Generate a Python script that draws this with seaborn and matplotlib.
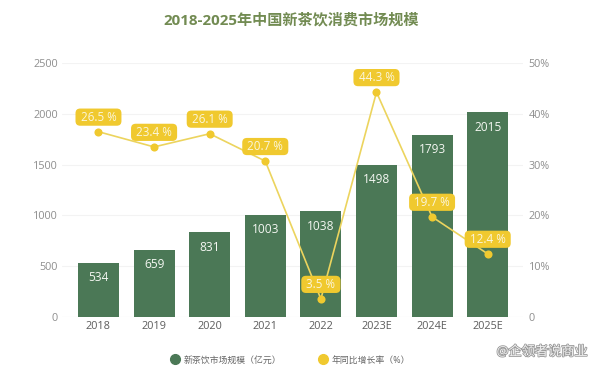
import matplotlib.pyplot as plt
import matplotlib.patheffects as pe
from matplotlib.lines import Line2D
import seaborn as sns

years = ['2018', '2019', '2020', '2021', '2022', '2023E', '2024E', '2025E']
market_size = [534, 659, 831, 1003, 1038, 1498, 1793, 2015]
# the line sits at these heights in the picture, its labels say something else for the first years
growth_pos = [36.5, 33.5, 36.1, 30.7, 3.5, 44.3, 19.7, 12.4]
growth_labels = ['26.5 %', '23.4 %', '26.1 %', '20.7 %', '3.5 %', '44.3 %', '19.7 %', '12.4 %']
left_ticks = [0, 500, 1000, 1500, 2000, 2500]
right_ticks = [0, 10, 20, 30, 40, 50]
right_tick_labels = ['0', '10%', '20%', '30%', '40%', '50%']

green = '#4b7856'
yellow = '#f0c92f'
line_yellow = '#ecd45e'

sns.set_theme(style="white")
plt.rcParams['font.family'] = ['Open Sans', 'Noto Sans CJK SC', 'DejaVu Sans']

fig = plt.figure(figsize=(6, 3.73), dpi=100)
ax = fig.add_axes([62 / 600, 1 - 316.7 / 373, 461 / 600, 253.4 / 373])

# Bars
sns.barplot(x=years, y=market_size, color=green, saturation=1, width=0.735, linewidth=0, ax=ax, zorder=2)
ax.set_ylim(0, 2500)
ax.set_yticks(left_ticks)
ax.set_xlim(-0.656, 7.635)
ax.grid(True, axis='y', color='#f3f3f3', linewidth=0.8)
ax.set_axisbelow(True)
ax.tick_params(axis='x', length=0, labelsize=7.8, labelcolor='#5c5c5c', pad=3)
ax.tick_params(axis='y', length=0, labelsize=7.8, labelcolor='#8e8e8e', pad=3)
ax.set_xlabel('')
ax.set_ylabel('')
for i, v in enumerate(market_size):
    ax.annotate(str(v), (i, v), xytext=(0, -10.5), textcoords='offset points',
                ha='center', va='center', color='#f4f7f2', fontsize=8.6)

# Line on the right axis
ax2 = ax.twinx()
sns.lineplot(x=years, y=growth_pos, sort=False, color=line_yellow, linewidth=1.2, ax=ax2, zorder=3)
sns.scatterplot(x=years, y=growth_pos, color=yellow, s=34, linewidth=0, ax=ax2, zorder=4)
ax2.set_ylim(0, 50)
ax2.set_yticks(right_ticks)
ax2.set_yticklabels(right_tick_labels)
ax2.tick_params(axis='y', length=0, labelsize=7.8, labelcolor='#8e8e8e', pad=4)
ax2.set_ylabel('')
ax2.grid(False)
for i, v in enumerate(growth_pos):
    # spaces around the text make the tag wider without making it taller
    ax2.annotate(' ' + growth_labels[i] + ' ', (i, v), xytext=(0, 10.5), textcoords='offset points',
                 ha='center', va='center', color='#fbf6dc', fontsize=8.4, zorder=5,
                 bbox=dict(boxstyle='round,pad=0.18,rounding_size=0.4', fc=yellow, ec='none'))

sns.despine(ax=ax, left=True, bottom=True)
sns.despine(ax=ax2, left=True, bottom=True, right=True)
ax.axhline(0, color='#eeeeee', linewidth=0.8, zorder=1)

fig.text(291 / 600, 1 - 20 / 373, '2018-2025年中国新茶饮消费市场规模', ha='center', va='center',
         fontsize=10.9, fontweight='bold', color='#728b52')

# Legend
handles = [Line2D([], [], marker='o', linestyle='none', color=green, markersize=7),
           Line2D([], [], marker='o', linestyle='none', color=yellow, markersize=7)]
fig.legend(handles, ['新茶饮市场规模（亿元）', '年同比增长率（%）'], ncol=2, frameon=False,
           loc='center', bbox_to_anchor=(288 / 600, 1 - 360 / 373), fontsize=6.4,
           labelcolor='#666666', handletextpad=0.0, columnspacing=3.7)

# Watermark
fig.text(588 / 600, 1 - 352 / 373, '@企领者说商业', ha='right', va='center', fontsize=9.5,
         color='#f2f2f2', path_effects=[pe.withStroke(linewidth=1.2, foreground='#9a9a9a')])

plt.savefig('out.png', dpi=100)
